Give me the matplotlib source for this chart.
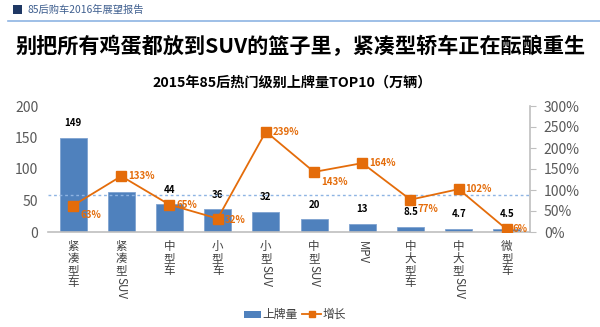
import matplotlib
matplotlib.use("Agg")
import matplotlib.pyplot as plt
from matplotlib import transforms
from matplotlib.patches import Rectangle
from matplotlib.lines import Line2D

plt.rcParams['font.family'] = ['Noto Sans CJK SC', 'DejaVu Sans']

# (stacked CJK part, rotated Latin part)
categories = [("紧凑型车", ""), ("紧凑型", "SUV"), ("中型车", ""), ("小型车", ""),
              ("小型", "SUV"), ("中型", "SUV"), ("", "MPV"), ("中大型车", ""),
              ("中大型", "SUV"), ("微型车", "")]
registrations = [149, 63, 44, 36, 32, 20, 13, 8.5, 4.7, 4.5]
reg_labels = ["149", "63", "44", "36", "32", "20", "13", "8.5", "4.7", "4.5"]
growth = [63, 133, 65, 32, 239, 143, 164, 77, 102, 6]
growth_label_offsets = [(5, -7), (5, 0), (5, 0), (5, -1), (5, 0),
                        (5, -7), (5, 0), (5, -7), (5, 0), (4, 0)]
reference_growth = 87
left_ticks = [0, 50, 100, 150, 200]
right_ticks = [0, 50, 100, 150, 200, 250, 300]

BLUE = "#4F81BD"
ORANGE = "#E46C0A"
GREY = "#595959"

W, H = 600, 327
fig = plt.figure(figsize=(W / 100, H / 100), dpi=100)
fig.patch.set_facecolor("white")

def fy(px):
    return 1 - px / H

def fx(px):
    return px / W

# Header
fig.patches.append(Rectangle((fx(13), fy(14)), fx(9), 9 / H, transform=fig.transFigure,
                             facecolor="#1F3864", edgecolor="none"))
fig.text(fx(28), fy(9.5), "85后购车2016年展望报告", fontsize=7.4, color="#3F5F8F",
         va="center", ha="left")
fig.add_artist(Line2D([fx(8), fx(600)], [fy(20.5), fy(20.5)], transform=fig.transFigure,
                      color="#8EB4E3", lw=1.2))
fig.text(fx(301), fy(46), "别把所有鸡蛋都放到SUV的篮子里，紧凑型轿车正在酝酿重生",
         fontsize=15.2, fontweight="bold", color="black", ha="center", va="center")
fig.text(fx(292), fy(83), "2015年85后热门级别上牌量TOP10（万辆）",
         fontsize=10.2, fontweight="bold", color="black", ha="center", va="center")

ax = fig.add_axes([fx(48), fy(232), fx(530 - 48), (232 - 106) / H])
x = list(range(len(registrations)))
ax.bar(x, registrations, width=0.56, color=BLUE, edgecolor="#7FA3D1", linewidth=0.6, zorder=2)
ax.set_xlim(-0.52, 9.48)
ax.set_ylim(0, 200)
ax.set_yticks(left_ticks)
ax.set_yticklabels([str(t) for t in left_ticks], fontsize=10, color=GREY)
ax.tick_params(axis="y", length=0, pad=7)
ax.set_xticks([])
for s in ("left", "right", "top"):
    ax.spines[s].set_visible(False)
ax.spines["bottom"].set_color("#BFBFBF")
ax.spines["bottom"].set_linewidth(1.2)

for xi, v, lab in zip(x, registrations, reg_labels):
    ax.annotate(lab, (xi, v), xytext=(0, 7), textcoords="offset points",
                ha="center", va="bottom", fontsize=7, fontweight="bold", color="black")

ax2 = ax.twinx()
ax2.set_ylim(0, 300)
ax2.set_yticks(right_ticks)
ax2.set_yticklabels([f"{t}%" for t in right_ticks], fontsize=10, color=GREY)
ax2.tick_params(axis="y", length=4, color="#BFBFBF", pad=6)
for s in ("left", "top", "bottom"):
    ax2.spines[s].set_visible(False)
ax2.spines["right"].set_color("#BFBFBF")
ax2.spines["right"].set_linewidth(1.2)
ax2.axhline(reference_growth, color="#8EB4E3", lw=1, ls=(0, (2, 2)), zorder=1)
ax2.plot(x, growth, color=ORANGE, lw=1.3, marker="s", markersize=6.5,
         markerfacecolor=ORANGE, markeredgecolor=ORANGE, zorder=4)
for xi, g, (dx, dy) in zip(x, growth, growth_label_offsets):
    ax2.annotate(f"{g}%", (xi, g), xytext=(dx, dy), textcoords="offset points",
                 ha="left", va="center", fontsize=7, fontweight="bold", color=ORANGE)

# Category labels: CJK characters stacked upright, Latin text rotated
trans = transforms.blended_transform_factory(ax.transData, fig.transFigure)
step = 12.0
for xi, (cjk, latin) in zip(x, categories):
    y = 240.0
    for ch in cjk:
        fig.text(xi, fy(y), ch, transform=trans, fontsize=8.3, color="#404040",
                 ha="center", va="top")
        y += step
    if latin:
        fig.text(xi, fy(y + 1), latin, transform=trans, fontsize=8.3, color="#404040",
                 ha="center", va="top", rotation=-90)

# Legend
fig.patches.append(Rectangle((fx(244), fy(317.5)), fx(17), 7 / H, transform=fig.transFigure,
                             facecolor=BLUE, edgecolor="none"))
fig.text(fx(262), fy(314), "上牌量", fontsize=8.5, color="#404040", ha="left", va="center")
fig.add_artist(Line2D([fx(302), fx(321)], [fy(314), fy(314)], transform=fig.transFigure,
                      color=ORANGE, lw=1.3))
fig.add_artist(Line2D([fx(311.5)], [fy(314)], transform=fig.transFigure,
                      color=ORANGE, marker="s", markersize=4.5, linestyle="none"))
fig.text(fx(323), fy(314), "增长", fontsize=8.5, color="#404040", ha="left", va="center")

fig.savefig("out.png", dpi=100)
